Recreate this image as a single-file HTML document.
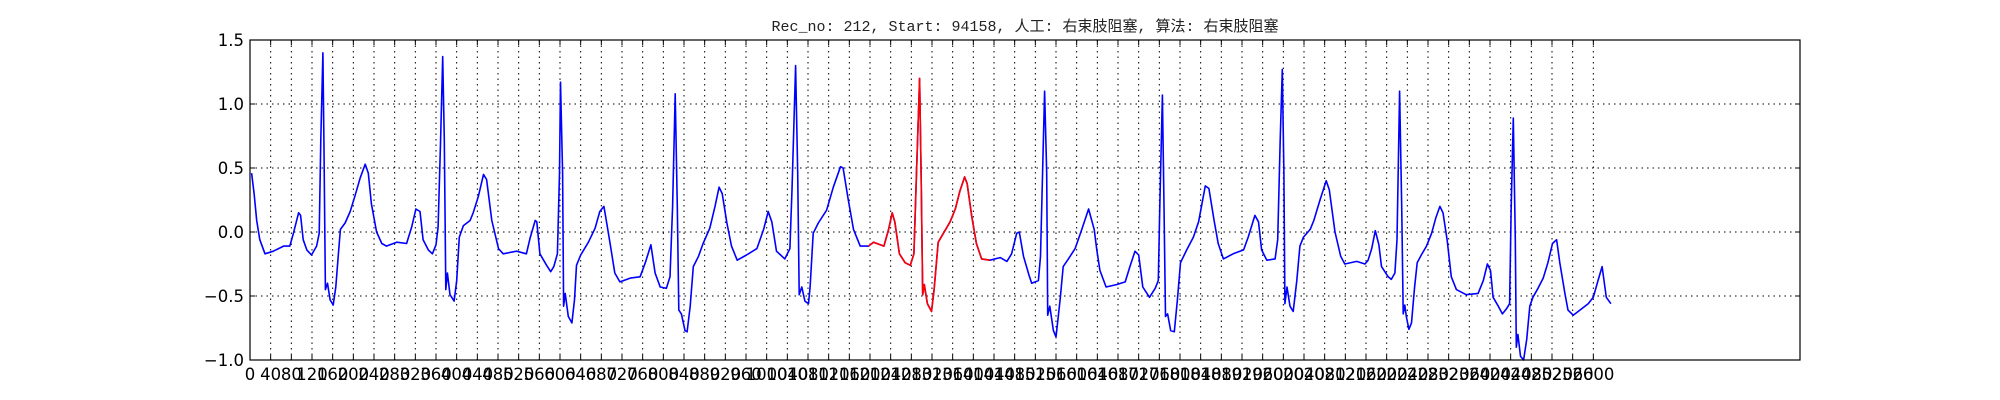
<!DOCTYPE html>
<html><head><meta charset="utf-8"><style>
html,body{margin:0;padding:0;background:#fff;}
svg{display:block;}
</style></head><body>
<svg id="chart" width="2000" height="400" xmlns="http://www.w3.org/2000/svg">
<text x="1025" y="31" text-anchor="middle" font-family="'Liberation Mono','Noto Sans CJK SC',monospace" font-size="15" fill="#222">Rec_no: 212, Start: 94158, 人工: 右束肢阻塞, 算法: 右束肢阻塞</text>
<g id="grid"></g>
<g id="series"></g>
<rect x="250" y="40" width="1550" height="320" fill="none" stroke="#000" stroke-width="1.2"/>
<g id="ticks"></g>
</svg>
<script>
const sampleIdx = [3,8,13,19,29,45,65,77,84,94,98,103,110,119,129,134,137,141,143,146,150,155,161,166,171,175,184,194,203,213,223,229,235,245,255,264,284,303,313,321,329,335,345,353,360,364,369,373,376,379,382,387,395,400,405,413,426,432,442,452,458,468,481,490,516,535,542,
552,555,561,574,582,588,595,599,601,605,607,610,616,623,628,632,640,655,668,677,685,690,697,706,716,736,755,765,776,784,794,806,813,818,823,827,830,835,842,846,852,858,868,877,890,900,908,914,923,932,943,961,981,994,1003,1010,1019,1035,1045,1049,1056,1060,1063,1068,1074,1081,1084,
1090,1100,1116,1129,1143,1148,1158,1168,1181,1197,1207,1227,1236,1243,1248,1257,1268,1278,1285,1290,1296,1299,1302,1305,1311,1319,1324,1332,1342,1355,1365,1374,1383,1388,1397,1406,1416,1432,1452,1465,1474,1484,1489,1497,1508,1513,1526,1530,1538,1542,1544,1548,1555,1560,1568,1574,1584,1597,1610,1623,
1634,1639,1645,1657,1678,1694,1703,1713,1720,1728,1741,1752,1758,1761,1766,1769,1772,1776,1782,1789,1795,1801,1813,1826,1836,1849,1856,1866,1874,1884,1903,1923,1932,1945,1952,1958,1968,1984,1989,1994,1998,2001,2003,2007,2013,2019,2026,2032,2039,2052,2059,2071,2083,2089,2100,2111,2119,2142,2158,
2164,2171,2178,2185,2190,2203,2209,2216,2220,2225,2229,2232,2235,2238,2243,2248,2254,2259,2267,2277,2287,2295,2303,2309,2317,2325,2335,2354,2377,2387,2395,2401,2406,2416,2424,2432,2438,2441,2445,2449,2451,2454,2459,2465,2471,2477,2483,2493,2503,2512,2521,2529,2535,2545,2551,2561,2574,2590,2600,2609,2617,2625,2634];
const ecgValues = [0.46,0.30,0.09,-0.06,-0.17,-0.15,-0.11,-0.11,-0.01,0.15,0.13,-0.06,-0.14,-0.18,-0.11,-0.01,0.72,1.40,0.72,-0.45,-0.40,-0.53,-0.57,-0.43,-0.17,0.02,0.07,0.16,0.28,0.42,0.53,0.46,0.22,0.00,-0.09,-0.11,-0.08,-0.09,0.04,0.18,0.16,-0.06,-0.14,-0.17,-0.10,0.04,0.72,1.37,0.72,-0.45,-0.32,-0.49,-0.54,-0.38,-0.04,0.05,0.09,0.15,0.28,0.45,0.41,0.09,-0.13,-0.17,-0.15,-0.17,-0.05,
0.09,0.08,-0.17,-0.26,-0.31,-0.27,-0.17,0.46,1.17,0.46,-0.58,-0.48,-0.66,-0.71,-0.53,-0.26,-0.18,-0.08,0.03,0.16,0.20,0.08,-0.09,-0.32,-0.39,-0.36,-0.35,-0.24,-0.10,-0.32,-0.43,-0.44,-0.35,0.20,1.08,0.20,-0.61,-0.64,-0.77,-0.78,-0.58,-0.27,-0.19,-0.09,0.03,0.20,0.35,0.30,0.07,-0.11,-0.22,-0.18,-0.13,0.02,0.16,0.08,-0.15,-0.21,-0.13,0.33,1.30,0.46,-0.49,-0.43,-0.54,-0.56,-0.43,
-0.01,0.07,0.17,0.35,0.51,0.50,0.25,0.02,-0.11,-0.11,-0.08,-0.11,0.02,0.15,0.08,-0.17,-0.24,-0.26,-0.17,0.46,1.20,0.46,-0.49,-0.41,-0.56,-0.62,-0.45,-0.08,-0.01,0.08,0.18,0.32,0.43,0.38,0.12,-0.09,-0.21,-0.22,-0.20,-0.23,-0.17,-0.01,0.00,-0.19,-0.34,-0.40,-0.38,-0.19,1.10,0.46,-0.65,-0.58,-0.77,-0.82,-0.53,-0.27,-0.21,-0.13,0.02,0.18,
0.02,-0.14,-0.30,-0.43,-0.41,-0.39,-0.27,-0.15,-0.18,-0.43,-0.51,-0.44,-0.38,0.20,1.07,0.20,-0.66,-0.64,-0.77,-0.78,-0.53,-0.24,-0.14,-0.04,0.08,0.36,0.34,0.09,-0.09,-0.21,-0.17,-0.14,-0.04,0.13,0.08,-0.14,-0.22,-0.21,-0.06,0.72,1.27,0.46,-0.56,-0.43,-0.58,-0.62,-0.38,-0.11,-0.04,0.02,0.09,0.25,0.40,0.33,0.00,-0.19,-0.25,-0.23,-0.25,
-0.22,-0.13,0.01,-0.10,-0.27,-0.35,-0.37,-0.32,-0.06,1.10,0.20,-0.64,-0.57,-0.66,-0.76,-0.71,-0.43,-0.24,-0.18,-0.11,-0.01,0.11,0.20,0.15,-0.06,-0.35,-0.45,-0.49,-0.48,-0.38,-0.25,-0.30,-0.51,-0.58,-0.64,-0.60,-0.56,0.20,0.89,-0.06,-0.90,-0.80,-0.97,-1.00,-0.84,-0.58,-0.51,-0.44,-0.36,-0.24,-0.09,-0.06,-0.24,-0.48,-0.61,-0.65,-0.61,-0.56,-0.51,-0.38,-0.27,-0.51,-0.56];
const highlightRange = [1197, 1436];
const yTickValues = [1.5, 1.0, 0.5, 0.0, -0.5, -1.0];
const yTickLabels = ["1.5","1.0","0.5","0.0","\u22120.5","\u22121.0"];
const xMax = 3000, xTickStep = 40, xTickLast = 2600;

const L=250,R=1800,T=40,B=360;
const xS = v => L + (v/xMax)*(R-L);
const yS = v => T + (1.5 - v)/2.5*(B-T);
const NS='http://www.w3.org/2000/svg';
const grid=document.getElementById('grid'), ticks=document.getElementById('ticks'), series=document.getElementById('series');
function mk(tag, attrs, parent){const e=document.createElementNS(NS,tag);for(const k in attrs)e.setAttribute(k,attrs[k]);parent.appendChild(e);return e;}

for(let i=0;i<yTickValues.length;i++){
  const y=yS(yTickValues[i]);
  const g=mk('line',{x1:L,x2:R,y1:y,y2:y,stroke:'#000','stroke-width':1,'stroke-dasharray':'1.5,4'},grid);
  
  
  const t1=mk('line',{x1:L,x2:L+5,y1:y,y2:y,stroke:'#000'},ticks);
  
  
  const t2=mk('line',{x1:R-5,x2:R,y1:y,y2:y,stroke:'#000'},ticks);
  
  
  const lb=mk('text',{x:L-6,y:y+6,'text-anchor':'end','font-family':"'DejaVu Sans','Liberation Sans',sans-serif",'font-size':16.5,fill:'#000'},ticks);
  lb.textContent=yTickLabels[i];
  
  
}
for(let v=0; v<=xTickLast; v+=xTickStep){
  const x=xS(v);
  const g=mk('line',{x1:x,x2:x,y1:T,y2:B,stroke:'#000','stroke-width':1,'stroke-dasharray':'1.5,4'},grid);
  
  
  const t1=mk('line',{x1:x,x2:x,y1:B-5,y2:B,stroke:'#000'},ticks);
  
  
  const t2=mk('line',{x1:x,x2:x,y1:T,y2:T+5,stroke:'#000'},ticks);
  
  
  const lb=mk('text',{x:x,y:B+20,'text-anchor':'middle','font-family':"'DejaVu Sans','Liberation Sans',sans-serif",'font-size':16.5,fill:'#000'},ticks);
  lb.textContent=String(v);
  
  
}
const allPts=sampleIdx.map((s,i)=>xS(s).toFixed(1)+','+yS(ecgValues[i]).toFixed(1)).join(' ');
const blue=mk('polyline',{points:allPts,fill:'none',stroke:'#0000ff','stroke-width':1.6,'stroke-linejoin':'round'},series);


const redPts=sampleIdx.map((s,i)=>[s,ecgValues[i]]).filter(p=>p[0]>=highlightRange[0]&&p[0]<=highlightRange[1]).map(p=>xS(p[0]).toFixed(1)+','+yS(p[1]).toFixed(1)).join(' ');
const red=mk('polyline',{points:redPts,fill:'none',stroke:'#ff0000','stroke-width':1.6,'stroke-linejoin':'round'},series);


</script>
</body></html>
